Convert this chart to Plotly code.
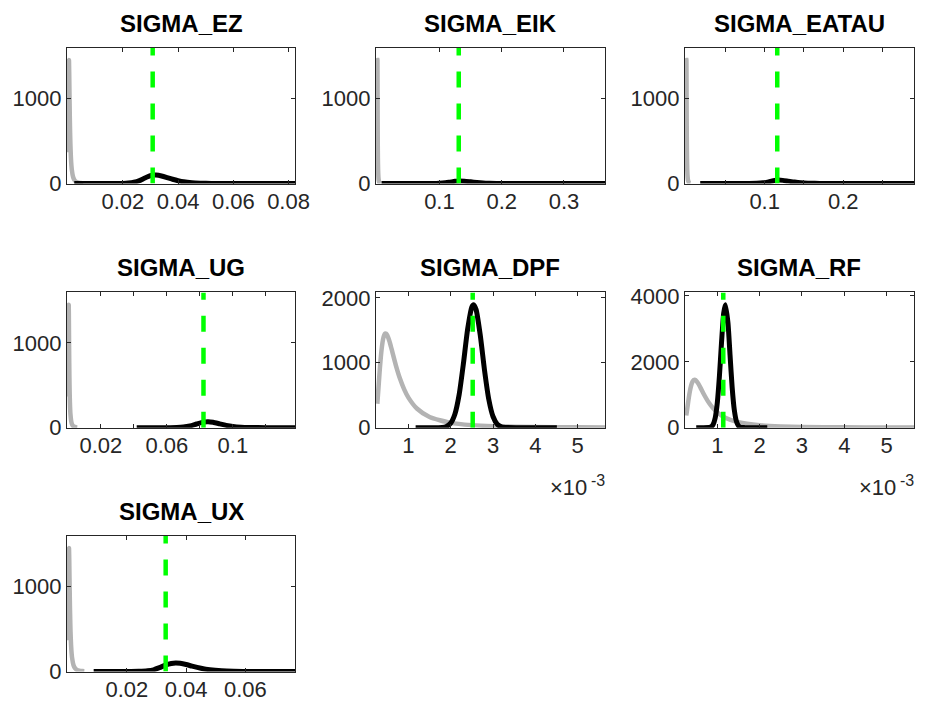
import plotly.graph_objects as go

# ---------------- data ----------------
titles = ["SIGMA_EZ", "SIGMA_EIK", "SIGMA_EATAU", "SIGMA_UG",
          "SIGMA_DPF", "SIGMA_RF", "SIGMA_UX"]

# common prior density (grey)
prior_x = [0.000265, 0.0003, 0.000325, 0.00035, 0.000375, 0.0004, 0.000425, 0.00045,
           0.000475, 0.0005, 0.00055, 0.0006, 0.0007, 0.0008, 0.0009, 0.001,
           0.0012, 0.0015, 0.002, 0.0025, 0.003, 0.004, 0.005, 0.00565]
prior_y = [368, 685, 910, 1103, 1254, 1360, 1423, 1450,
           1448, 1425, 1336, 1217, 969, 756, 590, 463,
           295, 164, 74, 39, 23, 10, 5, 3.5]

# posterior densities (black)
ez_x = [0.0024, 0.015, 0.020, 0.022, 0.024, 0.026, 0.028, 0.030, 0.031, 0.032, 0.034,
        0.036, 0.038, 0.040, 0.042, 0.045, 0.048, 0.052, 0.060, 0.0824]
ez_y = [0, 0, 1, 5, 15, 35, 65, 92, 100, 99, 88, 70, 50, 33, 20, 9, 4, 1, 0, 0]

eik_x = [0.007, 0.08, 0.095, 0.105, 0.115, 0.125, 0.132, 0.14, 0.15, 0.16, 0.17,
         0.18, 0.20, 0.366]
eik_y = [0, 0, 1, 5, 14, 26, 31, 28, 20, 12, 6, 3, 0.5, 0]

eatau_x = [0.018, 0.08, 0.09, 0.098, 0.105, 0.111, 0.117, 0.123, 0.13, 0.138, 0.146,
           0.155, 0.17, 0.29]
eatau_y = [0, 0, 2, 8, 20, 33, 40, 37, 28, 17, 9, 4, 1, 0]

ug_x = [0.0417, 0.06, 0.066, 0.07, 0.074, 0.078, 0.082, 0.085, 0.088, 0.092, 0.096,
        0.10, 0.105, 0.11, 0.12, 0.1378]
ug_y = [0, 0, 2, 7, 20, 43, 65, 70, 63, 45, 27, 14, 5, 1.5, 0, 0]

dpf_x = [0.00117, 0.0018, 0.0019, 0.0020, 0.0021, 0.0022, 0.0023, 0.0024, 0.0025,
         0.00254, 0.0026, 0.0027, 0.0028, 0.0029, 0.0030, 0.0031, 0.0032, 0.00335,
         0.0036, 0.00451]
dpf_y = [0, 2, 18, 70, 211, 511, 986, 1518, 1861, 1895, 1819, 1418, 881, 436, 172,
         54, 14, 2, 0, 0]

rf_x = [0.0005, 0.0008, 0.00085, 0.0009, 0.00095, 0.0010, 0.00105, 0.0011, 0.00115,
        0.00119, 0.00125, 0.0013, 0.00135, 0.0014, 0.00145, 0.0015, 0.00155, 0.00165,
        0.0018, 0.00218]
rf_y = [0, 5, 24, 95, 302, 772, 1587, 2622, 3483, 3735, 3193, 2203, 1221, 544, 195,
        56, 13, 1, 0, 0]

ux_x = [0.0088, 0.020, 0.024, 0.027, 0.029, 0.031, 0.033, 0.035, 0.0365, 0.038, 0.040,
        0.042, 0.045, 0.048, 0.052, 0.056, 0.062, 0.0768]
ux_y = [0, 0, 2, 8, 20, 45, 75, 95, 100, 96, 82, 63, 38, 20, 8, 3, 0.5, 0]

post_x = [ez_x, eik_x, eatau_x, ug_x, dpf_x, rf_x, ux_x]
post_y = [ez_y, eik_y, eatau_y, ug_y, dpf_y, rf_y, ux_y]

# posterior modes (green dashed)
modes = [0.0308, 0.131, 0.116, 0.0822, 0.00252, 0.00114, 0.0331]

# labelled x ticks
xtick_vals = [
    [0.02, 0.04, 0.06, 0.08],
    [0.1, 0.2, 0.3],
    [0.1, 0.2],
    [0.02, 0.06, 0.1],
    [0.001, 0.002, 0.003, 0.004, 0.005],
    [0.001, 0.002, 0.003, 0.004, 0.005],
    [0.02, 0.04, 0.06],
]
xtick_text = [
    ["0.02", "0.04", "0.06", "0.08"],
    ["0.1", "0.2", "0.3"],
    ["0.1", "0.2"],
    ["0.02", "0.06", "0.1"],
    ["1", "2", "3", "4", "5"],
    ["1", "2", "3", "4", "5"],
    ["0.02", "0.04", "0.06"],
]
# unlabelled x ticks
xtick_unlabelled = [[], [], [0.05, 0.15, 0.25], [0.04, 0.08, 0.12], [], [], []]
ytick_vals = [
    [0, 1000], [0, 1000], [0, 1000], [0, 1000],
    [0, 1000, 2000], [0, 2000, 4000], [0, 1000],
]
exponent_panels = [4, 5]
exponent_base = "×10"
exponent_power = "-3"

# ---------------- layout geometry ----------------
W, H = 932, 723
col_px = [(68, 300), (382, 615), (696, 929)]
row_px = [(40, 180), (292.3, 431.8), (543.3, 683.3)]

AX = "#262626"
FONT = "Liberation Sans"

fig = go.Figure()
layout = dict(width=W, height=H, margin=dict(l=0, r=0, t=0, b=0),
              paper_bgcolor="white", plot_bgcolor="white", showlegend=False)
annotations = []

for i, name in enumerate(titles):
    r, c = divmod(i, 3)
    k = "" if i == 0 else str(i + 1)
    xa, ya = "x" + k, "y" + k
    px0, px1 = col_px[c]
    py0, py1 = row_px[r]
    xdom = [px0 / W, px1 / W]
    ydom = [1 - py1 / H, 1 - py0 / H]

    xmin = min(prior_x[0], post_x[i][0])
    xmax = max(prior_x[-1], post_x[i][-1])
    pad = 1.5 * (xmax - xmin) / (px1 - px0)
    ytop = 1.1 * max(max(prior_y), max(post_y[i]))

    fig.add_trace(go.Scatter(x=prior_x, y=prior_y, mode="lines", xaxis=xa, yaxis=ya,
                             line=dict(color="#b3b3b3", width=4.5, shape="spline",
                                       smoothing=0.6), hoverinfo="skip"))
    fig.add_trace(go.Scatter(x=post_x[i], y=post_y[i], mode="lines", xaxis=xa, yaxis=ya,
                             line=dict(color="black", width=5, shape="spline",
                                       smoothing=0.6), hoverinfo="skip"))
    fig.add_trace(go.Scatter(x=[modes[i], modes[i]], y=[0, ytop], mode="lines",
                             xaxis=xa, yaxis=ya,
                             line=dict(color="#00ff00", width=4.5, dash="16px,16px"),
                             hoverinfo="skip"))

    common = dict(showline=True, linecolor=AX, linewidth=1, mirror="ticks",
                  ticks="inside", ticklen=4, tickcolor=AX, tickwidth=1,
                  showgrid=False, zeroline=False,
                  tickfont=dict(family=FONT, size=22, color=AX))
    xaxis = dict(domain=xdom, anchor=ya, range=[xmin - pad, xmax],
                 tickmode="array", tickvals=xtick_vals[i],
                 ticktext=xtick_text[i], ticklabelstandoff=-2, **common)
    if xtick_unlabelled[i]:
        xaxis["minor"] = dict(tickmode="array", tickvals=xtick_unlabelled[i],
                              ticks="inside", ticklen=4, tickcolor=AX, tickwidth=1,
                              showgrid=False)
    layout["xaxis" + k] = xaxis
    layout["yaxis" + k] = dict(domain=ydom, anchor=xa, range=[0, ytop],
                               tickmode="array", tickvals=ytick_vals[i],
                               ticktext=[str(v) for v in ytick_vals[i]],
                               ticklabelstandoff=0, **common)

    annotations.append(dict(text="<b>" + name + "</b>", xref="paper", yref="paper",
                            x=(xdom[0] + xdom[1]) / 2, y=ydom[1], xanchor="center",
                            yanchor="bottom", yshift=9, showarrow=False,
                            font=dict(family=FONT, size=24, color="black")))
    if i in exponent_panels:
        annotations.append(dict(text=exponent_base, xref="paper", yref="paper",
                                x=xdom[1], y=ydom[0], xanchor="right", yanchor="middle",
                                xshift=-16, yshift=-60, showarrow=False,
                                font=dict(family=FONT, size=22, color=AX)))
        annotations.append(dict(text=exponent_power, xref="paper", yref="paper",
                                x=xdom[1], y=ydom[0], xanchor="right", yanchor="middle",
                                xshift=2, yshift=-53, showarrow=False,
                                font=dict(family=FONT, size=16, color=AX)))

layout["annotations"] = annotations
fig.update_layout(**layout)
fig.write_html("out.html")
